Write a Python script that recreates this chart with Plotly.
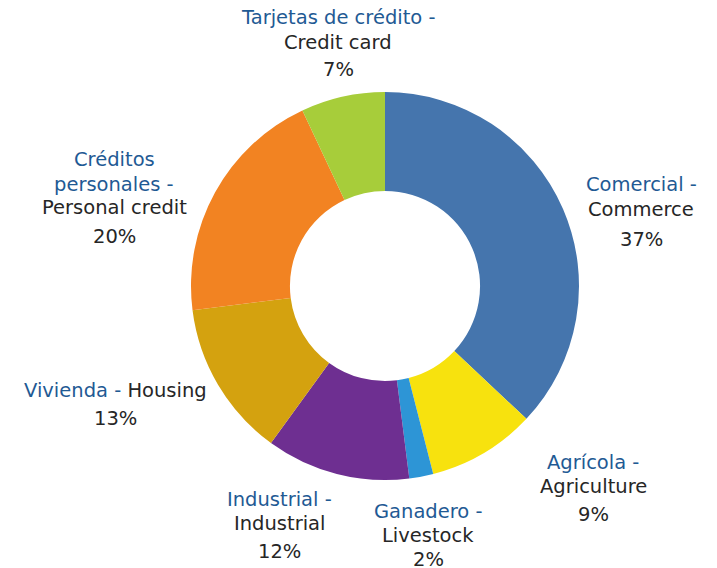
import plotly.graph_objects as go

W, H = 717, 568

labels_es = ["Comercial", "Agrícola", "Ganadero", "Industrial", "Vivienda", "Créditos personales", "Tarjetas de crédito"]
labels_en = ["Commerce", "Agriculture", "Livestock", "Industrial", "Housing", "Personal credit", "Credit card"]
values = [37, 9, 2, 12, 13, 20, 7]
colors = ["#4575AD", "#F7E20E", "#2D95D6", "#6E2F91", "#D4A20F", "#F28322", "#A7CD3A"]

BLUE = "#1F5A94"
BLACK = "#262626"
FONT = "DejaVu Sans"
FS = 19.5

# center & radius in pixels
cx, cy, r = 385, 286, 194

fig = go.Figure(go.Pie(
    labels=[f"{a} - {b}" for a, b in zip(labels_es, labels_en)],
    values=values,
    marker=dict(colors=colors, line=dict(width=0)),
    hole=0.49,
    sort=False,
    direction="clockwise",
    rotation=0,
    textinfo="none",
    hoverinfo="label+percent",
    showlegend=False,
    domain=dict(x=[(cx - r) / W, (cx + r) / W], y=[(H - cy - r) / H, (H - cy + r) / H]),
))

def px(x):
    return x / W

def py(y):
    return (H - y) / H

def b(t):
    return f"<span style='color:{BLUE}'>{t}</span>"

def k(t):
    return f"<span style='color:{BLACK}'>{t}</span>"

pct = [f"{v}%" for v in values]

# (lines, x center, y centers)
label_specs = [
    ([b(labels_es[0] + " -"), k(labels_en[0]), k(pct[0])], 641, [185, 209, 239]),
    ([b(labels_es[1] + " -"), k(labels_en[1]), k(pct[1])], 593, [462, 486, 514]),
    ([b(labels_es[2] + " -"), k(labels_en[2]), k(pct[2])], 428, [511, 535, 559]),
    ([b(labels_es[3] + " -"), k(labels_en[3]), k(pct[3])], 279, [499, 523, 551]),
    ([b(labels_es[4] + " -") + " " + k(labels_en[4]), k(pct[4])], 115, [390, 418]),
    ([b("Créditos"), b("personales -"), k(labels_en[5]), k(pct[5])], 114, [160, 184, 207, 236]),
    ([b(labels_es[6] + " -"), k(labels_en[6]), k(pct[6])], 338, [17, 42, 69]),
]

annotations = []
for lines, x, ys in label_specs:
    for t, y in zip(lines, ys):
        annotations.append(dict(
            text=t, x=px(x), y=py(y), xref="paper", yref="paper",
            xanchor="center", yanchor="middle", showarrow=False,
            font=dict(family=FONT, size=FS, color=BLACK),
        ))

# clipped source line at the bottom
annotations.append(dict(text="Source:", x=px(31), y=py(563), xref="paper", yref="paper",
                        xanchor="left", yanchor="top", showarrow=False,
                        font=dict(family=FONT, size=FS, color="#555555")))
annotations.append(dict(text="BCN", x=px(135), y=py(563), xref="paper", yref="paper",
                        xanchor="left", yanchor="top", showarrow=False,
                        font=dict(family=FONT, size=FS, color=BLUE)))

fig.update_layout(
    width=W, height=H,
    margin=dict(l=0, r=0, t=0, b=0),
    paper_bgcolor="white",
    plot_bgcolor="white",
    font=dict(family=FONT, size=FS, color=BLACK),
    annotations=annotations,
)

fig.write_html("out.html", config={"displayModeBar": False},
               post_script="document.body.style.margin='0';document.body.style.overflow='hidden';")
